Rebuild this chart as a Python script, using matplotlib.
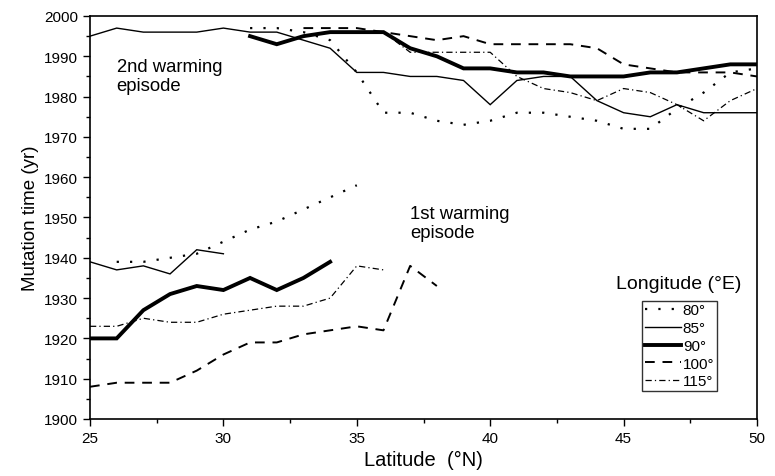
import numpy as np
import matplotlib
matplotlib.use('Agg')
import matplotlib.pyplot as plt
from matplotlib.lines import Line2D

nan = np.nan
latitudes = list(range(25, 51))

def span(start, values):
    # put values on the 25..50 latitude grid, nan elsewhere
    out = [nan] * len(latitudes)
    for i, v in enumerate(values):
        out[start - 25 + i] = v
    return out

# first warming episode
lon80_1st = span(26, [1939, 1939, 1940, 1941, 1944, 1947, 1949, 1952, 1955, 1958])
lon85_1st = span(25, [1939, 1937, 1938, 1936, 1942, 1941])
lon90_1st = span(25, [1920, 1920, 1927, 1931, 1933, 1932, 1935, 1932, 1935, 1939])
lon100_1st = span(25, [1908, 1909, 1909, 1909, 1912, 1916, 1919, 1919, 1921, 1922,
                       1923, 1922, 1938, 1933])
lon115_1st = span(25, [1923, 1923, 1925, 1924, 1924, 1926, 1927, 1928, 1928, 1930,
                       1938, 1937])

# second warming episode
lon80_2nd = span(31, [1997, 1997, 1996, 1994, 1986, 1976, 1976, 1974, 1973, 1974,
                      1976, 1976, 1975, 1974, 1972, 1972, 1977, 1981, 1986, 1987])
lon85_2nd = span(25, [1995, 1997, 1996, 1996, 1996, 1997, 1996, 1996, 1994, 1992,
                      1986, 1986, 1985, 1985, 1984, 1978, 1984, 1985, 1985, 1979,
                      1976, 1975, 1978, 1976, 1976, 1976])
lon90_2nd = span(31, [1995, 1993, 1995, 1996, 1996, 1996, 1992, 1990, 1987, 1987,
                      1986, 1986, 1985, 1985, 1985, 1986, 1986, 1987, 1988, 1988])
lon100_2nd = span(33, [1997, 1997, 1997, 1996, 1995, 1994, 1995, 1993, 1993, 1993,
                       1993, 1992, 1988, 1987, 1986, 1986, 1986, 1985])
lon115_2nd = span(35, [1996, 1996, 1991, 1991, 1991, 1991, 1985, 1982, 1981, 1979,
                       1982, 1981, 1978, 1974, 1979, 1982])

labels = ['80°', '85°', '90°', '100°', '115°']
first = [lon80_1st, lon85_1st, lon90_1st, lon100_1st, lon115_1st]
second = [lon80_2nd, lon85_2nd, lon90_2nd, lon100_2nd, lon115_2nd]
styles = [
    dict(ls=(0, (1, 5)), lw=1.6),
    dict(ls='-', lw=1.0),
    dict(ls='-', lw=2.8),
    dict(ls=(0, (5, 4)), lw=1.4),
    dict(ls=(0, (5, 2.5, 1, 2.5)), lw=0.9),
]

plt.rcParams['font.family'] = ['Liberation Sans', 'DejaVu Sans']

fig = plt.figure(figsize=(7.75, 4.77), dpi=100)
ax = fig.add_axes([90 / 775, 1 - 420 / 477, 667 / 775, 403 / 477])

for a, b, st in zip(first, second, styles):
    ax.plot(latitudes, a, color='black', solid_joinstyle='miter', **st)
    ax.plot(latitudes, b, color='black', solid_joinstyle='miter', **st)

ax.set_xlim(25, 50)
ax.set_ylim(1900, 2000)
ax.set_xticks(range(25, 51, 5))
ax.set_xticks(np.arange(27.5, 50, 5), minor=True)
ax.set_yticks(range(1900, 2001, 10))
ax.set_yticks(range(1905, 2000, 10), minor=True)
ax.tick_params(which='major', direction='out', length=5, width=1, labelsize=11)
ax.tick_params(which='minor', direction='out', length=3, width=1)
for s in ax.spines.values():
    s.set_linewidth(1.2)

ax.set_xlabel('Latitude  (°N)', fontsize=14.5, labelpad=4)
ax.set_ylabel('Mutation time (yr)', fontsize=13.5, labelpad=4)

ax.text(26.0, 1989.5, '2nd warming\nepisode', fontsize=13.3, va='top',
        linespacing=1.15)
ax.text(37.0, 1953.0, '1st warming\nepisode', fontsize=13.3, va='top',
        linespacing=1.15)

handles = [Line2D([], [], color='black', **st) for st in styles]
leg = ax.legend(handles, labels, loc='upper left', bbox_to_anchor=(0.828, 0.293),
                frameon=True, fancybox=False, edgecolor='black', borderpad=0.15,
                handlelength=2.4, handletextpad=0.1, labelspacing=0.25,
                borderaxespad=0, prop={'size': 11})
leg.get_frame().set_linewidth(1.0)
ax.text(0.883, 0.335, 'Longitude (°E)', transform=ax.transAxes, fontsize=14,
        ha='center', va='center')

fig.savefig('out.png', dpi=100)
